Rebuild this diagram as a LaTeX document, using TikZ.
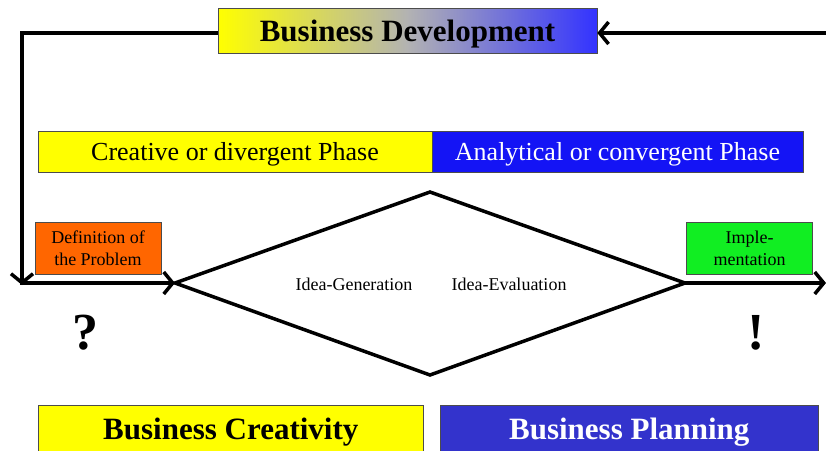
\documentclass[tikz,border=0pt]{standalone}
\usepackage{fontspec}
\setmainfont{Liberation Serif}
\usetikzlibrary{arrows.meta}
\definecolor{byellow}{HTML}{FFFF00}
\definecolor{bblue}{HTML}{1414F5}
\definecolor{pblue}{HTML}{3333CC}
\definecolor{gblue}{HTML}{3333FF}
\definecolor{borange}{HTML}{FF6600}
\definecolor{bgreen}{HTML}{11EE22}
\tikzset{
  conn/.style={line width=3.5pt, -{Straight Barb[length=9pt,width=22pt,line width=3.5pt]}},
  plainline/.style={line width=3.5pt},
  phasebox/.style={draw=black!70, line width=0.6pt, minimum height=41pt, inner sep=0pt, text depth=0pt, font=\fontsize{26}{28}\selectfont},
  bigbox/.style={draw=black!70, line width=0.6pt, minimum height=46pt, inner sep=0pt, text depth=0pt, font=\bfseries\fontsize{31}{33}\selectfont},
  smallbox/.style={draw=black!70, line width=0.6pt, minimum width=126pt, minimum height=52pt, inner sep=0pt, align=center, font=\fontsize{18}{22}\selectfont},
  lbl/.style={font=\fontsize{18}{20}\selectfont, inner sep=0pt},
  punct/.style={font=\bfseries\fontsize{52}{54}\selectfont, inner sep=0pt}
}
\begin{document}
\begin{tikzpicture}[x=1pt,y=-1pt]
\useasboundingbox (0,0) rectangle (826,450);
% Business Development
\node[draw=black!70, line width=0.6pt, left color=byellow, right color=gblue, middle color=black!30!white, minimum width=379pt, minimum height=45pt, inner sep=0pt, text depth=0pt, font=\bfseries\fontsize{31}{33}\selectfont] (bd) at (407.5,30.5) {Business Development};
% phases
\node[phasebox, fill=byellow, minimum width=394pt] (cre) at (235,151.5) {Creative or divergent Phase};
\node[phasebox, fill=bblue, text=white, minimum width=371pt] (ana) at (617.5,151.5) {Analytical or convergent Phase};
% diamond
\coordinate (dl) at (175,283);
\coordinate (dt) at (430,192);
\coordinate (dr) at (685,283);
\coordinate (db) at (430,375);
\draw[plainline, line join=miter] (dl) -- (dt) -- (dr) -- (db) -- cycle;
\node[lbl] (gen) at (354,284) {Idea-Generation};
\node[lbl] (eva) at (509,284) {Idea-Evaluation};
% small boxes
\node[smallbox, fill=borange] (def) at (98,248) {Definition of\\the Problem};
\node[smallbox, fill=bgreen] (imp) at (749.5,248) {Imple-\\mentation};
% marks
\node[punct] (q) at (85,333) {?};
\node[punct] (ex) at (756,333) {!};
% bottom boxes
\node[bigbox, fill=byellow, minimum width=385pt, anchor=north west] (bc) at (38,405) {Business Creativity};
\node[bigbox, fill=pblue, text=white, minimum width=378pt, anchor=north west] (bp) at (440,405) {Business Planning};
% connectors
\coordinate (tl) at (22,33);
\coordinate (bl) at (22,285);
\coordinate (tr) at (830,33);
\coordinate (br) at (826,283);
\draw[plainline, line cap=butt] (bd.west |- tl) -- ([xshift=-1.75pt]tl);
\draw[conn] ([yshift=-1.75pt]tl) -- (bl);
\draw[conn] ([xshift=-1.75pt]bl |- dl) -- (dl);
\draw[conn] (tr) -- (bd.east |- tr);
\draw[conn] (dr) -- (br);
\end{tikzpicture}
\end{document}
